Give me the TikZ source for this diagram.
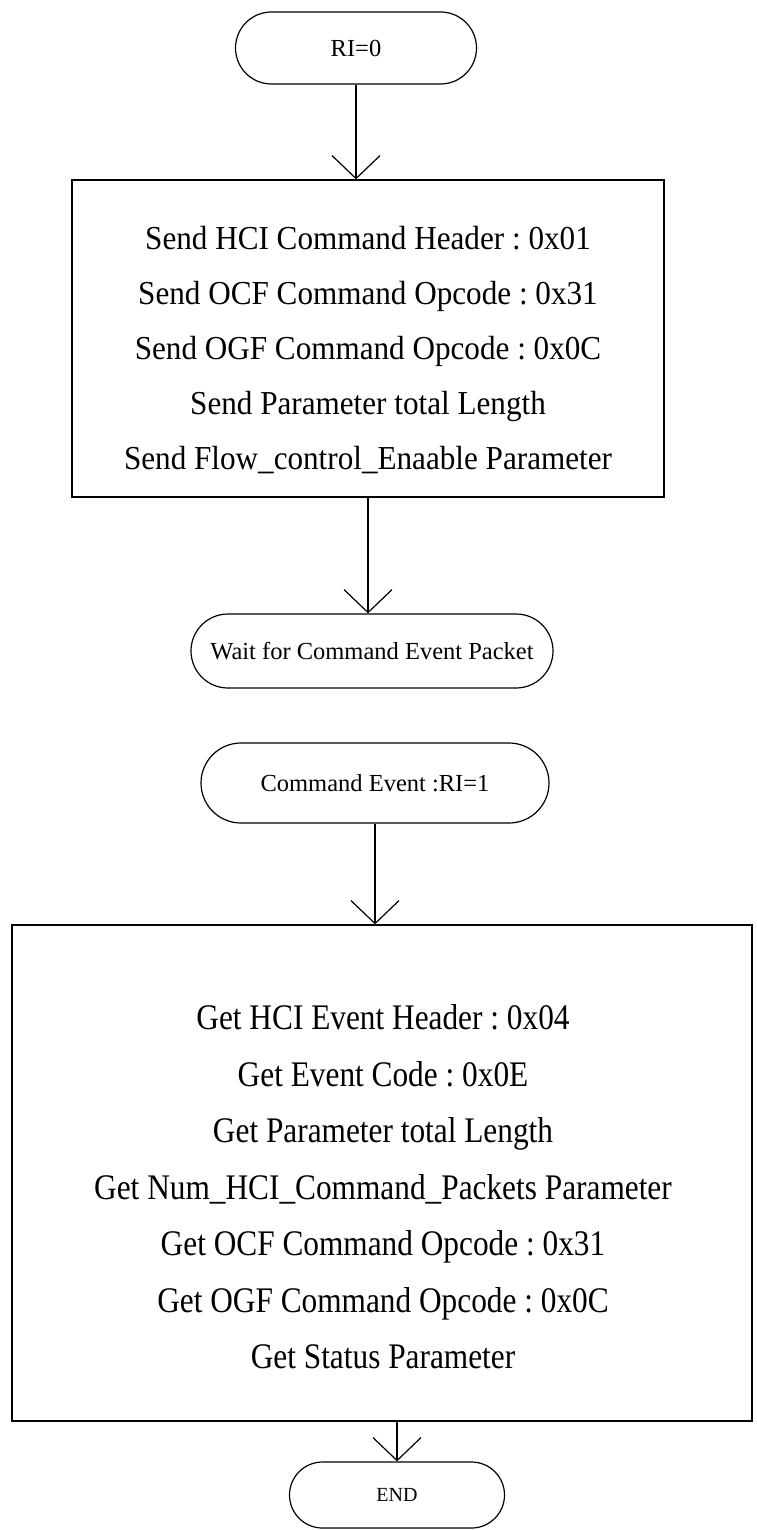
\documentclass[tikz,border=0pt]{standalone}
\usepackage{fontspec}
\setmainfont{Liberation Serif}
\newfontfamily\topfont[FakeStretch=0.93]{Liberation Serif}
\newfontfamily\condfont[FakeStretch=0.87]{Liberation Serif}
\usetikzlibrary{shapes.misc,arrows.meta}
\tikzset{
  terminal/.style={rounded rectangle, draw, line width=1.2pt, inner sep=0pt, font=\fontsize{24.5}{28}\selectfont},
  procbox/.style={draw, rectangle, line width=1.2pt, inner sep=0pt},
  toptext/.style={align=center, inner sep=0pt, font=\topfont\fontsize{33.5}{55}\selectfont},
  bottext/.style={align=center, inner sep=0pt, font=\condfont\fontsize{36}{56.5}\selectfont},
  arr/.style={line width=1.2pt, -{Straight Barb[length=23pt,width=48pt,line width=1.2pt]}}
}
\frenchspacing
\begin{document}
\begin{tikzpicture}[x=1pt,y=-1pt]
\useasboundingbox (0,0) rectangle (756,1530);
\fill[white] (0,0) rectangle (756,1530);

\node[terminal, minimum width=241pt, minimum height=72pt] (t1) at (356,48) {RI=0};

\node[procbox, minimum width=592pt, minimum height=317pt] (b1) at (368,338.5) {};
\node[toptext] (b1t) at (368,350) {Send HCI Command Header : 0x01\\
Send OCF Command Opcode : 0x31\\
Send OGF Command Opcode : 0x0C\\
Send Parameter total Length\\
Send Flow\_control\_Enaable Parameter};

\node[terminal, minimum width=362pt, minimum height=74pt] (t2) at (372,651) {Wait for Command Event Packet};

\node[terminal, minimum width=348pt, minimum height=80pt] (t3) at (375,783) {Command Event :RI=1};

\node[procbox, minimum width=740pt, minimum height=496pt] (b2) at (382,1173) {};
\node[bottext] (b2t) at (383,1187) {Get HCI Event Header : 0x04\\
Get Event Code : 0x0E\\
Get Parameter total Length\\
Get Num\_HCI\_Command\_Packets Parameter\\
Get OCF Command Opcode : 0x31\\
Get OGF Command Opcode : 0x0C\\
Get Status Parameter};

\node[terminal, minimum width=215pt, minimum height=66pt, font=\fontsize{20}{24}\selectfont] (t4) at (397,1495) {END};

\draw[arr] (t1.south) -- (t1.south |- b1.north);
\draw[arr] (b1.south) -- (b1.south |- t2.north);
\draw[arr] (t3.south) -- (t3.south |- b2.north);
\draw[arr] (t4.north |- b2.south) -- (t4.north);
\end{tikzpicture}
\end{document}
